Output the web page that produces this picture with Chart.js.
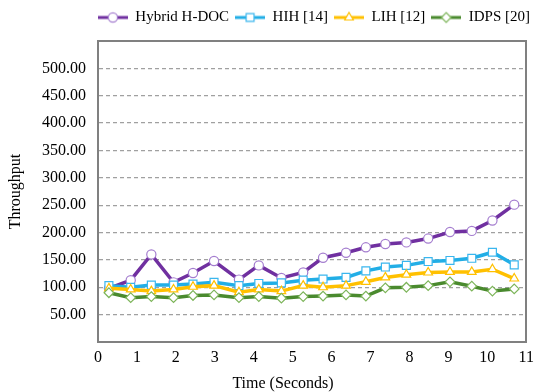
<!DOCTYPE html>
<html>
<head>
<meta charset="utf-8">
<script src="https://cdn.jsdelivr.net/npm/chart.js@4.4.0/dist/chart.umd.min.js"></script>
<style>html,body{margin:0;padding:0;background:#fff}canvas{display:block}</style>
</head>
<body>
<canvas id="c" width="540" height="392"></canvas>
<script>
// ---- data ----
const timeSeconds = [0.28, 0.84, 1.37, 1.94, 2.44, 2.98, 3.62, 4.13, 4.71, 5.27, 5.78, 6.37, 6.88, 7.38, 7.92, 8.48, 9.04, 9.6, 10.13, 10.69];
const hybridHDOC = [98, 113, 160, 109, 126, 148, 114, 140, 117, 127, 154, 163, 173, 179, 182, 189, 201, 203, 222, 251];
const hih14 = [103, 100, 104, 104, 106, 109, 103, 107, 108, 113, 115, 118, 130, 137, 140, 147, 149, 153, 164, 141];
const lih12 = [98, 96, 93, 96, 101, 103, 91, 96, 93, 103, 100, 103, 110, 118, 123, 127, 128, 128, 133, 116];
const idps20 = [90, 81, 83, 81, 85, 86, 81, 83, 80, 83, 84, 86, 84, 99, 100, 103, 110, 102, 93, 97];
const seriesLabels = ['Hybrid H-DOC', 'HIH [14]', 'LIH [12]', 'IDPS [20]'];
const xAxisTitle = 'Time (Seconds)';
const yAxisTitle = 'Throughput';

// ---- styles ----
const lineColors = ['#7030A0', '#22AEE6', '#FFC000', '#4A8A2E'];
const markerColors = ['#A47DCF', '#3AB6EE', '#FFC000', '#7DB55A'];
const markerStyles = ['circle', 'rect', 'triangle', 'rectRot'];
const markerRadius = [4.6, 5.6, 5.0, 4.8];
const FRAME = '#808080';

Chart.defaults.font.family = '"Liberation Serif", "Times New Roman", serif';
Chart.defaults.color = '#000';

function makeIcon(i) {
  const c = document.createElement('canvas');
  c.width = 30; c.height = 14;
  const g = c.getContext('2d');
  g.strokeStyle = lineColors[i]; g.lineWidth = 3;
  g.beginPath(); g.moveTo(0, 7); g.lineTo(30, 7); g.stroke();
  g.fillStyle = '#fff'; g.strokeStyle = markerColors[i]; g.lineWidth = 1.2;
  const r = markerRadius[i], cx = 15, cy = 7;
  g.beginPath();
  if (markerStyles[i] === 'circle') g.arc(cx, cy, r, 0, Math.PI * 2);
  else if (markerStyles[i] === 'rect') { const s = r * Math.SQRT1_2; g.rect(cx - s, cy - s, 2 * s, 2 * s); }
  else if (markerStyles[i] === 'triangle') { g.moveTo(cx, cy - r); g.lineTo(cx + r * 0.866, cy + r * 0.5); g.lineTo(cx - r * 0.866, cy + r * 0.5); g.closePath(); }
  else { g.moveTo(cx - r, cy); g.lineTo(cx, cy + r); g.lineTo(cx + r, cy); g.lineTo(cx, cy - r); g.closePath(); }
  g.fill(); g.stroke();
  return c;
}
const icons = seriesLabels.map((_, i) => makeIcon(i));

const allSeries = [hybridHDOC, hih14, lih12, idps20];
const datasets = allSeries.map((vals, i) => ({
  label: seriesLabels[i],
  data: vals.map((v, j) => ({ x: timeSeconds[j], y: v })),
  borderColor: lineColors[i],
  backgroundColor: lineColors[i],
  borderWidth: 3.5,
  pointStyle: markerStyles[i],
  pointRadius: markerRadius[i],
  pointBackgroundColor: '#fff',
  pointBorderColor: markerColors[i],
  pointBorderWidth: 1.2,
  tension: 0,
  fill: false,
  order: 4 - i,
  xAxisID: 'x',
  yAxisID: 'y'
}));

new Chart(document.getElementById('c'), {
  type: 'line',
  data: { datasets },
  options: {
    responsive: false,
    animation: false,
    devicePixelRatio: 1,
    layout: { padding: { left: 30, right: 4, top: 4, bottom: 0 } },
    plugins: {
      tooltip: { enabled: false },
      legend: {
        position: 'top',
        align: 'end',
        labels: {
          usePointStyle: true,
          pointStyleWidth: 30,
          color: '#000',
          font: { size: 15 },
          padding: 6,
          generateLabels: chart => chart.data.datasets.map((ds, i) => ({
            text: ds.label, pointStyle: icons[i], fillStyle: '#fff', strokeStyle: lineColors[i],
            lineWidth: 0, hidden: false, datasetIndex: i, fontColor: '#000'
          }))
        }
      },
      title: {
        display: true, position: 'bottom', text: xAxisTitle, color: '#000',
        font: { size: 16, weight: 'normal', lineHeight: 1 }, padding: { top: 0, bottom: 0 }
      }
    },
    scales: {
      x: {
        type: 'linear', position: 'bottom', min: 0, max: 11,
        ticks: { stepSize: 1, color: '#000', font: { size: 16 }, padding: 6, autoSkip: false, maxRotation: 0 },
        grid: { display: false, drawTicks: false },
        border: { display: true, color: FRAME, width: 2 },
        afterFit: s => { s.height = 34; }
      },
      xTop: {
        type: 'linear', position: 'top', min: 0, max: 11,
        ticks: { display: false },
        grid: { display: false, drawTicks: false },
        border: { display: true, color: FRAME, width: 2 },
        afterFit: s => { s.height = 6; }
      },
      y: {
        type: 'linear', position: 'left', min: 0, max: 550,
        ticks: { stepSize: 50, color: '#000', font: { size: 16 }, padding: 12,
          callback: v => (v === 0 || v === 550) ? '' : v.toFixed(2) },
        grid: { drawTicks: false, lineWidth: 1.3,
          color: c => (c.tick && (c.tick.value === 0 || c.tick.value === 550)) ? 'rgba(0,0,0,0)' : '#a0a0a0' },
        border: { display: true, color: FRAME, width: 2, dash: [4, 3] },
        title: { display: true, text: yAxisTitle, color: '#000', font: { size: 16 }, padding: { top: -24, bottom: 0 } },
        afterFit: s => { s.width = 68; }
      },
      yRight: {
        type: 'linear', position: 'right', min: 0, max: 550,
        ticks: { display: false },
        grid: { display: false, drawTicks: false },
        border: { display: true, color: FRAME, width: 2 },
        afterFit: s => { s.width = 6; }
      }
    }
  }
});
</script>
</body>
</html>
